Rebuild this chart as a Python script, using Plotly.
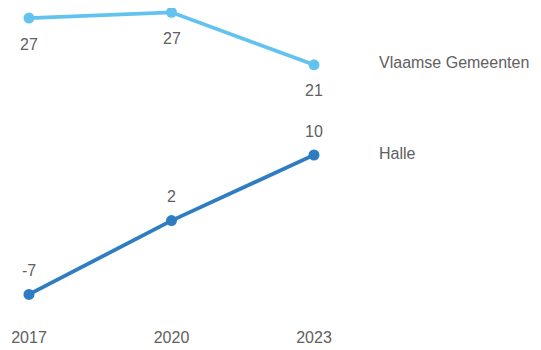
import plotly.graph_objects as go

years = [2017, 2020, 2023]
year_labels = ["2017", "2020", "2023"]
vlaamse = [26.7, 27.4, 21.0]
halle = [-7.0, 2.0, 10.0]
series_names = ["Vlaamse Gemeenten", "Halle"]

light = "#63C3EF"
dark = "#2E7CC2"
txt = "#606060"
font_family = "Liberation Sans, Arial, sans-serif"

fig = go.Figure()
fig.add_trace(go.Scatter(x=years, y=vlaamse, mode="lines+markers", name=series_names[0],
                         line=dict(color=light, width=3.8), marker=dict(size=11, color=light),
                         cliponaxis=False, hoverinfo="skip"))
fig.add_trace(go.Scatter(x=years, y=halle, mode="lines+markers", name=series_names[1],
                         line=dict(color=dark, width=3.8), marker=dict(size=11, color=dark),
                         cliponaxis=False, hoverinfo="skip"))

annotations = []
for x, v in zip(years, vlaamse):
    annotations.append(dict(x=x, y=v, text=f"{v:.0f}", showarrow=False, yshift=-26,
                            font=dict(size=16, color=txt, family=font_family)))
for x, v in zip(years, halle):
    annotations.append(dict(x=x, y=v, text=f"{v:.0f}", showarrow=False, yshift=24,
                            font=dict(size=16, color=txt, family=font_family)))
annotations.append(dict(x=1.221, xref="paper", y=vlaamse[-1], yref="y", text=series_names[0],
                        showarrow=False, xanchor="left", yshift=2,
                        font=dict(size=16, color=txt, family=font_family)))
annotations.append(dict(x=1.221, xref="paper", y=halle[-1], yref="y", text=series_names[1],
                        showarrow=False, xanchor="left", yshift=2,
                        font=dict(size=16, color=txt, family=font_family)))

fig.update_layout(
    width=533, height=342,
    margin=dict(l=21, r=227, t=2, b=40),
    paper_bgcolor="white", plot_bgcolor="white",
    showlegend=False,
    annotations=annotations,
    xaxis=dict(range=[2017, 2023], tickvals=years, ticktext=year_labels,
               showgrid=False, zeroline=False, showline=False, ticks="",
               ticklabelstandoff=16,
               tickfont=dict(size=16, color=txt, family=font_family)),
    yaxis=dict(range=[-8.90, 27.68], visible=False, showgrid=False, zeroline=False),
)

fig.write_html("out.html")
